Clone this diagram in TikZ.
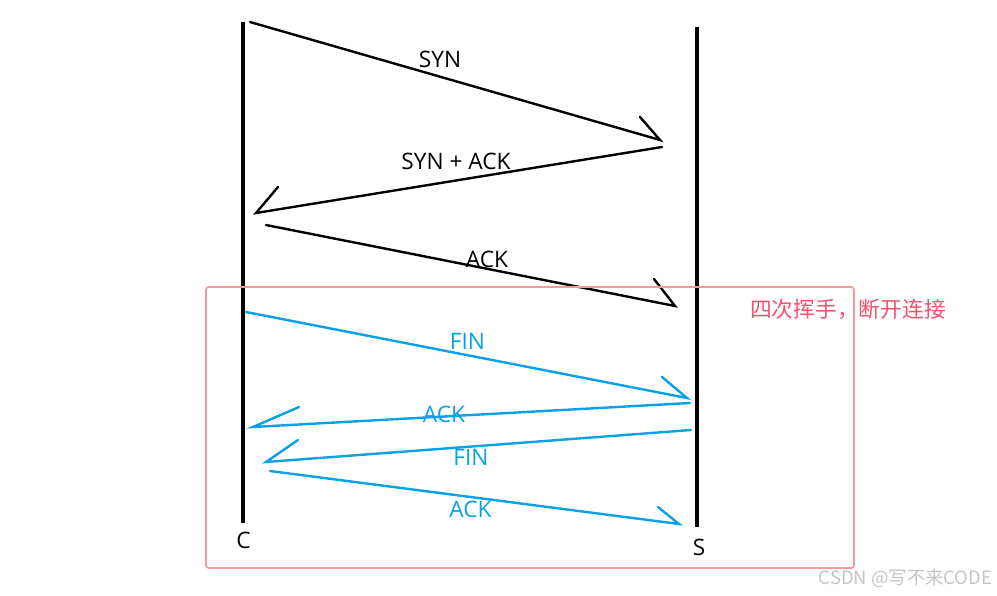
\documentclass[tikz,border=0pt]{standalone}
\usepackage{fontspec}
\setmainfont{Open Sans}
\newfontfamily\cjk{Noto Sans CJK SC}
\usetikzlibrary{positioning}
\definecolor{cblack}{HTML}{000000}
\definecolor{cblue}{HTML}{08A0E6}
\definecolor{cred}{HTML}{F5506E}
\definecolor{cbox}{HTML}{F59A9A}
\definecolor{cgrey}{HTML}{C4C4C4}
\tikzset{
  every picture/.style={x=0.75pt, y=-0.75pt, line width=1.8pt},
  life/.style={draw=black, line width=2.4pt},
  msg/.style={draw=#1, line width=1.8pt, line join=miter, line cap=round},
  msg/.default=cblack,
  lbl/.style={font=\fontsize{17}{19}\selectfont, inner sep=0pt},
  frame/.style={draw=cbox, line width=1.2pt, rounded corners=2pt},
  note/.style={font=\cjk\fontsize{16.3}{18}\selectfont, text=cred, inner sep=0pt},
  wmark/.style={font=\cjk\fontsize{13.8}{15}\selectfont, text=cgrey, inner sep=0pt},
}

\begin{document}
\begin{tikzpicture}
  \useasboundingbox (0,0) rectangle (997,596);
  % lifelines
  \coordinate (ctop) at (243,22);
  \coordinate (cbot) at (243,523);
  \coordinate (stop) at (697,27);
  \coordinate (sbot) at (697,527);
  \draw[life] (ctop) -- (cbot);
  \draw[life] (stop) -- (sbot);
  \node[lbl] (cname) at (243.5,540.5) {C};
  \node[lbl] (sname) at (699,547) {S};
  % messages: start / tip / barb end
  \foreach \i/\c/\ax/\ay/\bx/\by/\hx/\hy in {
    1/cblack/250/22/660/140/640/117,
    2/cblack/662/147/256/213/278/187,
    3/cblack/266/225/675/306/654/279,
    4/cblue/246/312/687/398/662/377,
    5/cblue/690/403/253/427/299/407,
    6/cblue/691/430/266/462/298/440,
    7/cblue/270/471/679/524/658/507} {
    \coordinate (m\i a) at (\ax,\ay);
    \coordinate (m\i b) at (\bx,\by);
    \coordinate (m\i h) at (\hx,\hy);
    \draw[msg=\c] (m\i a) -- (m\i b) -- (m\i h);
  }
  \foreach \i/\c/\x/\y/\txt in {
    1/black/440/59.5/{SYN},
    2/black/456/161/{SYN + ACK},
    3/black/487/259.5/{ACK},
    4/cblue/467.5/341/{FIN},
    5/cblue/444/414/{ACK},
    6/cblue/471/457/{FIN},
    7/cblue/470.5/509/{ACK}}
    \node[lbl, text=\c] (l\i) at (\x,\y) {\txt};
  % four-way close
  \draw[frame] (206,287) rectangle (854,568);
  \node[note] (close) at (848,310) {四次挥手，断开连接};
  \node[wmark] (wm) at (905.5,578) {CSDN @写不来CODE};
\end{tikzpicture}
\end{document}
